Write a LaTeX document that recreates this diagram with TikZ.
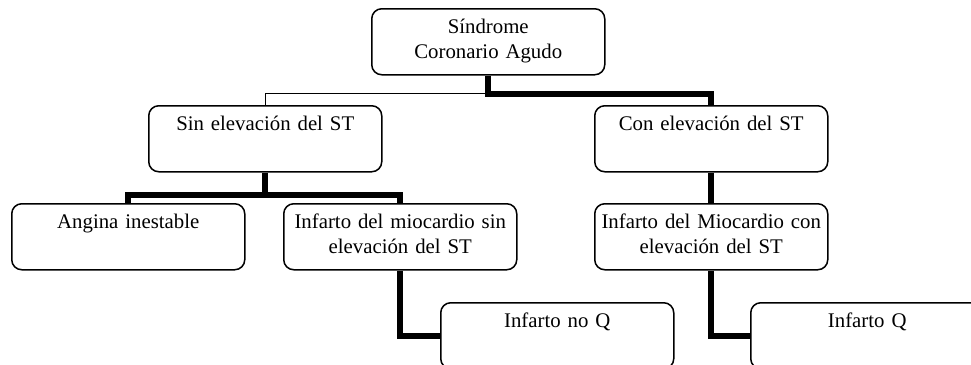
\documentclass[tikz,border=0pt]{standalone}
\usepackage{fontspec}
\setmainfont{Liberation Serif}

\tikzset{
	caja/.style={draw, line width=1.5pt, rounded corners=10pt, anchor=north west,
		minimum width=233pt, minimum height=66pt, text width=225pt, align=center,
		inner xsep=4pt, inner ysep=4pt, text height=21pt, text depth=37pt,
		font=\fontsize{20.8}{24.5}\selectfont},
	grueso/.style={line width=6pt},
	fino/.style={line width=1.5pt}
}

\begin{document}
\begin{tikzpicture}[x=1pt, y=-1pt]
		\clip (0,0) rectangle (971,364);
		\node[caja] (sca) at (371,8) {Síndrome\\Coronario Agudo};
		\node[caja] (sin) at (148,105) {Sin elevación del ST};
		\node[caja] (con) at (594,105) {Con elevación del ST};
		\node[caja] (angina) at (11,203) {Angina inestable};
		\node[caja] (iamsin) at (283,203) {Infarto del miocardio sin\\elevación del ST};
		\node[caja] (iamcon) at (594,203) {Infarto del Miocardio con\\elevación del ST};
		\node[caja] (noq) at (440,302) {Infarto no Q};
		\node[caja] (q) at (750,302) {Infarto Q};
		% conectores
		\draw[grueso] (sca.south) -- ++(0,18) coordinate (rama1) -| (con.north);
		\draw[fino] (rama1) -| (sin.north);
		\draw[grueso] (sin.south) -- ++(0,22) coordinate (rama2) -| (angina.north);
		\draw[grueso] (rama2) -| (iamsin.north);
		\draw[grueso] (iamsin.south) |- (noq.west);
		\draw[grueso] (con.south) -- (iamcon.north);
		\draw[grueso] (iamcon.south) |- (q.west);
	\end{tikzpicture}
\end{document}
